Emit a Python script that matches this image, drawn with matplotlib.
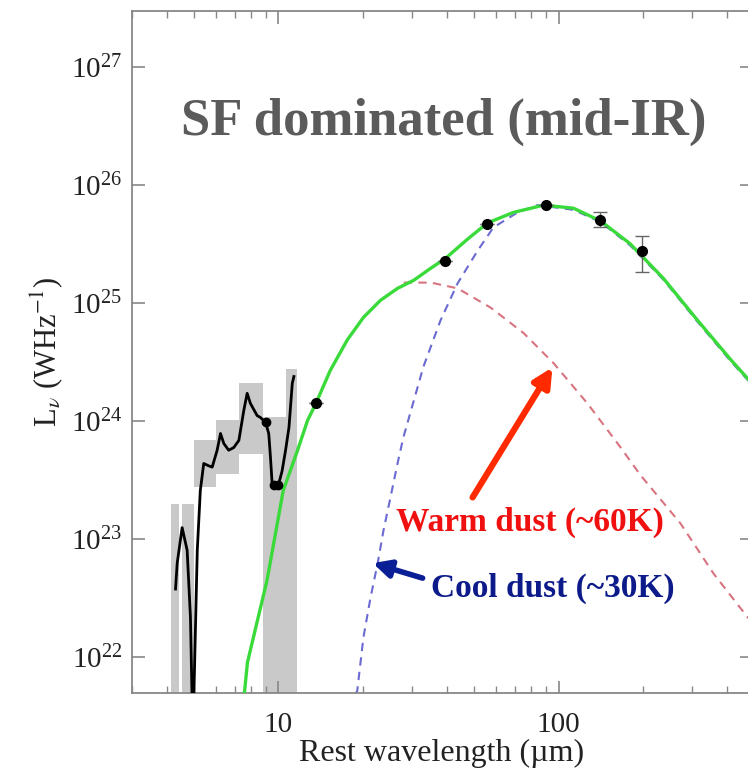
import matplotlib.pyplot as plt
from matplotlib.ticker import NullLocator, NullFormatter, LogLocator

plt.rcParams['font.family'] = ['Liberation Serif', 'DejaVu Serif']
plt.rcParams['mathtext.fontset'] = 'stix'

# total fit (green), rest wavelength in micron, L_nu in W/Hz
fit_wl = [7.55, 7.75, 9.1, 10.4, 11.7, 12.7, 13.6, 15.3, 17.6, 20.1, 23.1, 26.6,
          30.4, 34.9, 39.4, 47.3, 55.7, 69.0, 88.5, 113, 141, 180, 237, 313, 413, 490]
fit_lum = [4.9e21, 9.1e21, 4.5e22, 2.6e23, 5.7e23, 1.02e24, 1.42e24, 2.7e24, 4.9e24,
           7.6e24, 1.06e25, 1.34e25, 1.57e25, 1.98e25, 2.4e25, 3.5e25, 4.8e25, 5.9e25,
           6.8e25, 6.4e25, 5.0e25, 3.2e25, 1.62e25, 7.2e24, 3.3e24, 2.1e24]

# warm dust component (red dashed)
warm_wl = [28.0, 35.0, 43.6, 57.2, 75.0, 96.1, 127, 166.6, 196, 272, 358, 472, 490]
warm_lum = [1.5e25, 1.5e25, 1.34e25, 9.2e24, 5.6e24, 3.1e24, 1.41e24, 6.0e23, 3.5e23,
            1.37e23, 5.1e22, 2.2e22, 2.0e22]

# cool dust component (blue dashed)
cool_wl = [18.8, 19.1, 20.1, 21.3, 22.6, 23.7, 25.1, 26.6, 27.9, 32.9, 37.9, 43.6, 51.4,
           58.5, 71.4, 84.2, 113, 141, 180, 237, 313, 413, 490]
cool_lum = [4.9e21, 5.2e21, 1.48e22, 3.2e22, 6.3e22, 1.19e23, 2.27e23, 4.4e23, 7.3e23,
            2.9e24, 7.2e24, 1.48e25, 2.8e25, 4.4e25, 5.9e25, 6.8e25, 6.2e25, 4.9e25,
            3.1e25, 1.58e25, 7.0e24, 3.2e24, 2.05e24]

# IRS spectrum (black)
spec_wl = [4.29, 4.35, 4.53, 4.72, 4.85, 4.92, 4.98, 5.13, 5.26, 5.41, 5.64, 5.80, 6.04,
           6.21, 6.38, 6.64, 6.92, 7.22, 7.52, 7.73, 7.94, 8.39, 8.62, 8.99, 9.23, 9.36,
           9.49, 9.76, 10.0, 10.3, 10.6, 10.9, 11.2, 11.35]
spec_lum = [3.8e22, 6.3e22, 1.26e23, 8.1e22, 2.2e22, 4e21, 4e21, 8.1e22, 2.6e23, 4.4e23,
            4.2e23, 4.1e23, 5.7e23, 7.9e23, 6.5e23, 5.7e23, 6.0e23, 6.9e23, 1.24e24,
            1.73e24, 1.42e24, 1.12e24, 1.08e24, 9.8e23, 7.9e23, 5.0e23, 3.0e23, 2.9e23,
            2.9e23, 3.8e23, 5.7e23, 8.9e23, 2.1e24, 2.4e24]

# spectrum uncertainty band (grey blocks)
band_edges = [4.15, 4.43, 4.54, 5.01, 5.96, 7.20, 8.77, 10.6, 11.6]
band_upper = [2.0e23, 1e21, 2.0e23, 6.9e23, 1.02e24, 2.1e24, 1.1e24, 2.8e24]
band_lower = [1e21, 1e21, 1e21, 2.76e23, 3.6e23, 5.3e23, 1e21, 1e21]

# spectral points on the IRS curve
spec_pt_wl = [8.99, 9.6, 10.0]
spec_pt_lum = [9.8e23, 2.9e23, 2.9e23]

# photometry
phot_wl = [13.6, 39.2, 55.7, 90, 140, 198]
phot_lum = [1.42e24, 2.3e25, 4.7e25, 6.8e25, 5.1e25, 2.8e25]
phot_err_lo = [0, 0, 0, 0, 0.7e25, 0.94e25]
phot_err_hi = [0, 0, 0, 0, 0.8e25, 0.9e25]

fig = plt.figure(figsize=(7.48, 7.74), dpi=100)
ax = fig.add_axes([132 / 748, 81 / 774, 620 / 748, 682 / 774])
ax.set_xscale('log')
ax.set_yscale('log')

ax.stairs(band_upper, band_edges, baseline=band_lower, fill=True,
          color='#c9c9c9', lw=0, zorder=1)
ax.plot(spec_wl, spec_lum, color='black', lw=2, zorder=3)
ax.plot(spec_pt_wl, spec_pt_lum, 'o', color='black', ms=6, zorder=4)

ax.plot(cool_wl, cool_lum, ls=(0, (4, 3)), color='#6a6ad2', lw=1.5, zorder=2)
ax.plot(warm_wl, warm_lum, ls=(0, (4, 3)), color='#d87480', lw=1.5, zorder=2)
ax.plot(fit_wl, fit_lum, color='#3ada3a', lw=2.4, zorder=3)

ax.errorbar(phot_wl, phot_lum, yerr=[phot_err_lo, phot_err_hi], fmt='o', color='black',
            ms=7, ecolor='#666666', elinewidth=1, capsize=5, capthick=1, zorder=5)

ax.set_xlim(3.0, 490)
ax.set_ylim(5e21, 3e27)

ax.set_xticks([10, 100], ['10', '100'])
ax.xaxis.set_minor_locator(LogLocator(base=10, subs=range(2, 10)))
ax.xaxis.set_minor_formatter(NullFormatter())
ax.yaxis.set_major_locator(LogLocator(base=10, numticks=10))
ax.yaxis.set_minor_locator(NullLocator())

ax.tick_params(which='both', direction='in', top=True, right=True, colors='#888888',
               labelcolor='#222222', labelsize=21)
ax.tick_params(which='major', length=9, width=1.2, pad=7)
ax.tick_params(axis='x', which='major', pad=14)
ax.tick_params(which='minor', length=5, width=1)
for sp in ax.spines.values():
    sp.set_color('#888888')
    sp.set_linewidth(1.3)

ax.set_xlabel('Rest wavelength (µm)', fontsize=23, color='#222222', labelpad=0)
ax.set_ylabel('L$_\\nu$ (WHz$^{-1}$)', fontsize=22, color='#222222', labelpad=4)

ax.text(0.503, 0.837, 'SF dominated (mid-IR)', transform=ax.transAxes, ha='center',
        va='center', fontsize=38, fontweight='bold', color='#5b5b5b')

ax.annotate('', xy=(95, 2.87e24), xytext=(49.3, 2.27e23),
            arrowprops=dict(arrowstyle='-|>', lw=4.5, color='#ff2a00', mutation_scale=28,
                            shrinkA=0, shrinkB=0))
ax.text(78.7, 1.39e23, 'Warm dust (~60K)', ha='center', va='center', fontsize=24,
        fontweight='bold', color='#f01010')

ax.annotate('', xy=(21.7, 6.3e22), xytext=(32.7, 4.7e22),
            arrowprops=dict(arrowstyle='-|>', lw=4, color='#0a1e96', mutation_scale=26,
                            shrinkA=0, shrinkB=0))
ax.text(95, 3.85e22, 'Cool dust (~30K)', ha='center', va='center', fontsize=24,
        fontweight='bold', color='#0c1a8a')

fig.savefig('out.png', dpi=100)
